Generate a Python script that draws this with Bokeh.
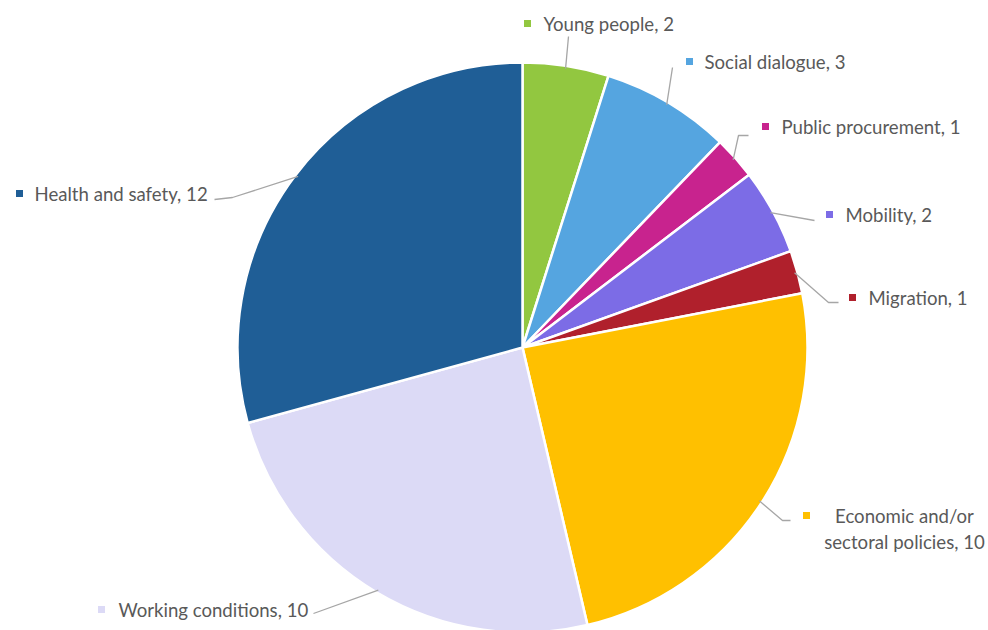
import math
from bokeh.plotting import figure
from bokeh.models import Range1d, ColumnDataSource
from bokeh.core.properties import value
from bokeh.embed import file_html
from bokeh.resources import INLINE

# ---- data ----
categories = ["Young people", "Social dialogue", "Public procurement", "Mobility",
              "Migration", "Economic and/or\nsectoral policies", "Working conditions",
              "Health and safety"]
counts = [2, 3, 1, 2, 1, 10, 10, 12]
colors = ["#92C740", "#55A5E0", "#C8238E", "#7C6CE6", "#B0202C", "#FFC000",
          "#DCDAF6", "#1F5E96"]

# ---- layout (image pixel coordinates, y downwards) ----
W, H = 988, 630
CX, CY, R = 522, 347, 285
# label anchor: marker x, marker y, text x, text y, text_align
label_pos = [
    (527, 23, 543, 23, "left"),
    (689, 61, 704, 61, "left"),
    (765, 126, 781, 126, "left"),
    (829, 214, 845, 214, "left"),
    (852, 297, 868, 297, "left"),
    (806, 515, 904, 528, "center"),
    (101, 609, 118, 609, "left"),
    (19, 193, 34, 193, "left"),
]
# leader line paths (elbow points, from label side toward slice)
leader_elbows = [
    [(568, 36)],
    [(672, 67)],
    [(748, 135), (738, 135)],
    [(814, 220)],
    [(838, 302), (828, 302)],
    [(790, 520), (782, 520)],
    [(313, 613)],
    [(214, 199), (232, 197)],
]

def fy(y):
    return H - y

p = figure(width=W, height=H, output_backend="svg", toolbar_location=None,
           x_range=Range1d(0, W), y_range=Range1d(0, H), min_border=0,
           background_fill_color="white", border_fill_color="white")
p.axis.visible = False
p.grid.visible = False
p.outline_line_color = None

total = sum(counts)
starts, ends, mids = [], [], []
cum = 0
for c in counts:
    a0 = math.pi / 2 - 2 * math.pi * cum / total
    a1 = math.pi / 2 - 2 * math.pi * (cum + c) / total
    starts.append(a0)
    ends.append(a1)
    mids.append((a0 + a1) / 2)
    cum += c

src = ColumnDataSource(dict(start=starts, end=ends, color=colors,
                            x=[CX] * len(counts), y=[fy(CY)] * len(counts)))
p.wedge(x="x", y="y", radius=R, start_angle="start", end_angle="end",
        direction="clock", fill_color="color", line_color="white", line_width=2.5,
        source=src)

# leader lines
for i, m in enumerate(mids):
    ex = CX + R * math.cos(m) * 0.99
    ey = fy(CY) + R * math.sin(m) * 0.99
    pts = [(x, fy(y)) for x, y in leader_elbows[i]] + [(ex, ey)]
    p.line([q[0] for q in pts], [q[1] for q in pts], line_color="#A6A6A6",
           line_width=1.3)

FONT = value("Lato")
FS = "18.6px"
# markers and labels
for i, (mx, my, tx, ty, align) in enumerate(label_pos):
    txt = f"{categories[i]}, {counts[i]}"
    p.rect([mx], [fy(my)], width=7, height=7, fill_color=colors[i],
           line_color=None)
    if "\n" in categories[i]:
        lines = txt.split("\n")
        p.text([tx, tx], [fy(ty - 13), fy(ty + 13)], text=lines, text_align="center",
               text_baseline="middle", text_font=FONT,
               text_font_size=FS, text_color="#595959")
    else:
        p.text([tx], [fy(ty)], text=[txt], text_align=align, text_baseline="middle",
               text_font=FONT, text_font_size=FS, text_color="#595959")

open("out.html", "w").write(file_html(p, INLINE))
